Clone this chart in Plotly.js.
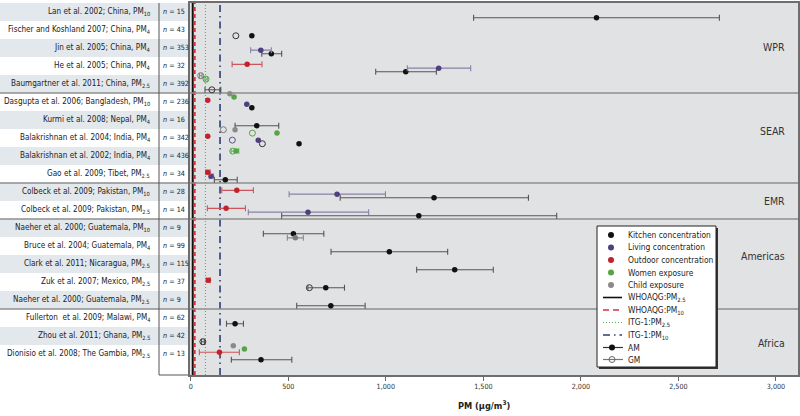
<!DOCTYPE html>
<html><head><meta charset="utf-8">
<script src="https://cdn.plot.ly/plotly-3.0.1.min.js"></script>
<style>html,body{margin:0;padding:0;background:#fff}#chart{width:800px;height:416px}</style>
</head><body><div id="chart"></div>
<script>
// ---------------- data ----------------
const _ = null;
const studies = [
  "Lan et al. 2002; China, PM<sub>10</sub>",
  "Fischer and Koshland 2007; China, PM<sub>4</sub>",
  "Jin et al. 2005; China, PM<sub>4</sub>",
  "He et al. 2005; China, PM<sub>4</sub>",
  "Baumgartner et al. 2011; China, PM<sub>2.5</sub>",
  "Dasgupta et al. 2006; Bangladesh, PM<sub>10</sub>",
  "Kurmi et al. 2008; Nepal, PM<sub>4</sub>",
  "Balakrishnan et al. 2004; India, PM<sub>4</sub>",
  "Balakrishnan et al. 2002; India, PM<sub>4</sub>",
  "Gao et al. 2009; Tibet, PM<sub>2.5</sub>",
  "Colbeck et al. 2009; Pakistan, PM<sub>10</sub>",
  "Colbeck et al. 2009; Pakistan, PM<sub>2.5</sub>",
  "Naeher et al. 2000; Guatemala, PM<sub>10</sub>",
  "Bruce et al. 2004; Guatemala, PM<sub>4</sub>",
  "Clark et al. 2011; Nicaragua, PM<sub>2.5</sub>",
  "Zuk et al. 2007; Mexico, PM<sub>2.5</sub>",
  "Naeher et al. 2000; Guatemala, PM<sub>2.5</sub>",
  "Fullerton  et al. 2009; Malawi, PM<sub>4</sub>",
  "Zhou et al. 2011; Ghana, PM<sub>2.5</sub>",
  "Dionisio et al. 2008; The Gambia, PM<sub>2.5</sub>"
];
const sampleSizes = [15,43,353,32,392,236,16,342,436,34,28,14,9,99,115,37,9,62,42,13];
const regionNames = ["WPR","SEAR","EMR","Americas","Africa"];
const regionSizes = [5,5,2,5,3];
const xTickVals = [0,500,1000,1500,2000,2500,3000];
const xTickText = ["0","500","1,000","1,500","2,000","2,500","3,000"];
const guideNames = ["WHOAQG:PM<sub>2.5</sub>","WHOAQG:PM<sub>10</sub>","ITG-1:PM<sub>2.5</sub>","ITG-1:PM<sub>10</sub>"];
const guideValues = [10,20,75,150];

// measurements (µg/m3), one entry per study row
const kitchenAM = [2080,313,413,1102,_,313,338,555,_,177,1247,1169,526,1018,1353,692,718,227,_,360];
const kitchenGM = [_,231,_,_,108,_,_,367,_,_,_,_,_,_,_,608,_,_,62,_];
const kitchenLo = [1450,_,364,948,73,_,227,_,_,121,766,466,372,719,1158,600,543,183,55,208];
const kitchenHi = [2710,_,466,1259,154,_,451,_,_,238,1731,1876,682,1317,1551,788,894,270,70,518];
const kitchenAltAM = [_,_,_,_,_,_,_,_,_,_,_,_,536,_,_,_,_,_,_,_];
const kitchenAltLo = [_,_,_,_,_,_,_,_,_,_,_,_,495,_,_,_,_,_,_,_];
const kitchenAltHi = [_,_,_,_,_,_,_,_,_,_,_,_,577,_,_,_,_,_,_,_];

const livingAM = [_,_,359,1271,_,287,_,346,_,104,750,601,_,_,_,_,_,_,_,_];
const livingGM = [_,_,_,_,_,_,_,213,_,_,_,_,_,_,_,_,_,_,_,_];
const livingLo = [_,_,307,1110,_,_,_,_,_,95,504,295,_,_,_,_,_,_,_,_];
const livingHi = [_,_,413,1435,_,_,_,_,_,115,998,912,_,_,_,_,_,_,_,_];

const outdoorAM = [_,_,_,289,_,87,_,87,_,87,236,181,_,_,_,90,_,_,_,147];
const outdoorGM = [_,_,_,_,_,_,_,_,_,_,_,_,_,_,_,_,_,_,_,_];
const outdoorLo = [_,_,_,212,_,_,_,_,_,77,159,85,_,_,_,80,_,_,_,44];
const outdoorHi = [_,_,_,365,_,_,_,_,_,99,321,280,_,_,_,100,_,_,_,249];

const womenAM = [_,_,_,_,_,222,_,442,232,_,_,_,_,_,_,_,_,_,_,275];
const womenGM = [_,_,_,_,78,_,_,316,215,_,_,_,_,_,_,_,_,_,_,_];
const womenLo = [_,_,_,_,72,_,_,_,207,_,_,_,_,_,_,_,_,_,_,_];
const womenHi = [_,_,_,_,85,_,_,_,246,_,_,_,_,_,_,_,_,_,_,_];

const childAM = [_,_,_,_,_,200,_,227,_,_,_,_,_,_,_,_,_,_,_,218];
const childGM = [_,_,_,_,51,_,_,167,_,_,_,_,_,_,_,_,_,_,_,_];
const childLo = [_,_,_,_,45,_,_,_,_,_,_,_,_,_,_,_,_,_,_,_];
const childHi = [_,_,_,_,58,_,_,_,_,_,_,_,_,_,_,_,_,_,_,_];

// ---------------- font fitting ----------------
const ctx = document.createElement('canvas').getContext('2d');
function available(f){
  ctx.font = '20px monospace'; const a = ctx.measureText('Fischer and Koshland 2007').width;
  ctx.font = '20px "' + f + '", monospace'; const b = ctx.measureText('Fischer and Koshland 2007').width;
  return Math.abs(a-b) > 0.5;
}
const FAMILY = ['Liberation Sans Narrow','DejaVu Sans Condensed','Roboto','Liberation Sans'].find(available) || 'sans-serif';
const FONT = '"' + FAMILY + '", sans-serif';
function fit(text, target, bold){
  ctx.font = (bold ? 'bold ' : '') + '20px ' + FONT;
  return 20 * target / ctx.measureText(text).width;
}
const S_LABEL = Math.min(10.5, fit('Fischer and Koshland 2007; China, PM', 139));
const S_N     = Math.min(10.5, fit('n = 353', 26));
const S_TICK  = Math.min(11, fit('1,500', 18.5));
const S_LEG   = Math.min(11, fit('Kitchen concentration', 83));
const S_REG   = Math.min(12, fit('WPR', 21.5));
const S_TITLE = Math.min(14, fit('PM (µg/m3)', 54, true));

// ---------------- layout helpers ----------------
const W = 800, H = 416;
const PX = x => x / W, PY = y => 1 - y / H;
const Y_RANGE = [20.17, -0.5];     // reversed: first study at top
const Y_TOP = 3, Y_BOT = 375, X_LEFT = 190, X_RIGHT = 798;

const types = [
  {name:"Kitchen concentration", color:"#111111", bar:"#555555", gmColor:"#333333", off:0.32, am:kitchenAM, gm:kitchenGM, lo:kitchenLo, hi:kitchenHi},
  {name:"Living concentration",  color:"#4f3f7e", bar:"#8a80a8", gmColor:"#5f5285", off:0.12, am:livingAM, gm:livingGM, lo:livingLo, hi:livingHi},
  {name:"Outdoor concentration", color:"#c0232b", bar:"#d0545a", gmColor:"#c0232b", off:-0.09, am:outdoorAM, gm:outdoorGM, lo:outdoorLo, hi:outdoorHi},
  {name:"Women exposure",        color:"#55a544", bar:"#6db35e", gmColor:"#55a544", off:-0.27, am:womenAM, gm:womenGM, lo:womenLo, hi:womenHi},
  {name:"Child exposure",        color:"#8a8a8a", bar:"#8a8a8a", gmColor:"#7a7a7a", off:-0.46, am:childAM, gm:childGM, lo:childLo, hi:childHi}
];
const extra = {color:"#7d7d7d", bar:"#8a8a8a", off:0.55, am:kitchenAltAM, lo:kitchenAltLo, hi:kitchenAltHi};

const traces = [];
function errs(vals, lo, hi, use){
  return {
    plus: vals.map((v,i) => (v!=null && use(i) && hi[i]!=null) ? hi[i]-v : NaN),
    minus: vals.map((v,i) => (v!=null && use(i) && lo[i]!=null) ? v-lo[i] : NaN)
  };
}
types.forEach(t => {
  const ys = t.am.map((v,i) => i + t.off);
  const eg = errs(t.gm, t.lo, t.hi, i => t.am[i]==null);
  traces.push({
    type:'scatter', mode:'markers', x:t.gm, y:ys, showlegend:false, hoverinfo:'x',
    marker:{symbol:'circle-open', size:6, color:t.gmColor, line:{width:1, color:t.gmColor}},
    error_x:{type:'data', symmetric:false, array:eg.plus, arrayminus:eg.minus, color:t.bar, thickness:1.1, width:3}
  });
  const ea = errs(t.am, t.lo, t.hi, i => true);
  traces.push({
    type:'scatter', mode:'markers', x:t.am, y:ys, showlegend:false, hoverinfo:'x',
    marker:{symbol:'circle', size:5.5, color:t.color},
    error_x:{type:'data', symmetric:false, array:ea.plus, arrayminus:ea.minus, color:t.bar, thickness:1.1, width:3}
  });
});
{
  const ee = errs(extra.am, extra.lo, extra.hi, i => true);
  traces.push({
    type:'scatter', mode:'markers', x:extra.am, y:extra.am.map((v,i)=>i+extra.off), showlegend:false, hoverinfo:'x',
    marker:{symbol:'circle', size:5.5, color:extra.color},
    error_x:{type:'data', symmetric:false, array:ee.plus, arrayminus:ee.minus, color:extra.bar, thickness:1.1, width:3}
  });
}

// ---------------- shapes ----------------
const shapes = [];
shapes.push({type:'rect', xref:'paper', yref:'paper', x0:PX(X_LEFT), x1:PX(X_RIGHT), y0:PY(Y_BOT), y1:PY(Y_TOP),
             fillcolor:'#e1e2e4', line:{width:0}, layer:'below'});
studies.forEach((s,i) => {
  if (i % 2 === 0) shapes.push({type:'rect', xref:'paper', yref:'y', x0:0, x1:PX(X_LEFT), y0:i-0.5, y1:i+0.5,
             fillcolor:'#e3e8ec', line:{width:0}, layer:'below'});
});
const guideStyles = [
  {color:'#111111', width:2, dash:'solid'},
  {color:'#d8343c', width:2, dash:'4px,3px'},
  {color:'#4caf50', width:1, dash:'1px,2px'},
  {color:'#2d3e78', width:1.6, dash:'7px,4px,1.5px,4px'}
];
guideValues.forEach((v,k) => {
  shapes.push({type:'line', xref:'x', yref:'paper', x0:v, x1:v, y0:PY(Y_BOT), y1:PY(Y_TOP), line:guideStyles[k], layer:'below'});
});
let acc = 0;
regionSizes.slice(0,-1).forEach(n => {
  acc += n;
  shapes.push({type:'line', xref:'paper', yref:'y', x0:0, x1:PX(X_RIGHT), y0:acc-0.5, y1:acc-0.5,
               line:{color:'#8e8e8e', width:1.6}, layer:'below'});
});
shapes.push({type:'line', xref:'paper', yref:'paper', x0:PX(159), x1:PX(159), y0:PY(Y_BOT), y1:PY(Y_TOP), line:{color:'#555', width:1}, layer:'below'});
shapes.push({type:'line', xref:'paper', yref:'paper', x0:PX(159), x1:PX(X_LEFT), y0:PY(Y_BOT), y1:PY(Y_BOT), line:{color:'#555', width:1}, layer:'below'});
const LB = {x0:597, x1:716, y0:226, y1:367};
shapes.push({type:'rect', xref:'paper', yref:'paper', x0:PX(LB.x0+2), x1:PX(LB.x1+2), y0:PY(LB.y1+2), y1:PY(LB.y0+2),
             fillcolor:'#333', line:{width:0}, layer:'below'});
shapes.push({type:'rect', xref:'paper', yref:'paper', x0:PX(LB.x0), x1:PX(LB.x1), y0:PY(LB.y1), y1:PY(LB.y0),
             fillcolor:'#ffffff', line:{color:'#222', width:1}, layer:'below'});

// ---------------- legend (own pixel-unit subplot) ----------------
const legY = [235,247.5,260,272.5,285,297.5,310,322.5,335,347.5,359.5];
const legendTexts = types.map(t=>t.name).concat(guideNames, ["AM","GM"]);
const L = {xaxis:'x3', yaxis:'y3', showlegend:false, hoverinfo:'skip', type:'scatter'};
types.forEach((t,k) => traces.push(Object.assign({mode:'markers', x:[611], y:[legY[k]], marker:{size:6, color:t.color}}, L)));
guideStyles.forEach((st,k) => traces.push(Object.assign({mode:'lines', x:[603,622], y:[legY[5+k],legY[5+k]],
   line:{color:st.color, width:Math.min(st.width,1.6), dash:k===1?'6px,4px':st.dash}}, L)));
traces.push(Object.assign({mode:'lines', x:[603,623], y:[legY[9],legY[9]], line:{color:'#333', width:1.2}}, L));
traces.push(Object.assign({mode:'markers', x:[612], y:[legY[9]], marker:{size:6, color:'#111'}}, L));
traces.push(Object.assign({mode:'lines', x:[603,623], y:[legY[10],legY[10]], line:{color:'#777', width:1.2}}, L));
traces.push(Object.assign({mode:'markers', x:[612], y:[legY[10]], marker:{size:6, symbol:'circle-open', color:'#666', line:{width:1,color:'#666'}}}, L));

// ---------------- annotations ----------------
const annotations = [];
studies.forEach((s,i) => {
  annotations.push({xref:'paper', yref:'y', x:PX(152), y:i, xanchor:'right', yanchor:'middle', text:s, showarrow:false,
                    font:{family:FONT, size:S_LABEL, color:'#222'}});
  annotations.push({xref:'paper', yref:'y', x:PX(161), y:i, xanchor:'left', yanchor:'middle', text:'<i>n</i> = ' + sampleSizes[i], showarrow:false,
                    font:{family:FONT, size:S_N, color:'#222'}});
});
const regionY = [46.7,130.7,201,256,342.7];
regionNames.forEach((r,k) => {
  annotations.push({xref:'paper', yref:'paper', x:PX(787), y:PY(regionY[k]), xanchor:'right', yanchor:'middle',
                    text:r, showarrow:false, font:{family:FONT, size:S_REG, color:'#333'}});
});
legendTexts.forEach((txt,k) => {
  annotations.push({xref:'x3', yref:'y3', x:626, y:legY[k], xanchor:'left', yanchor:'middle', text:txt, showarrow:false,
                    font:{family:FONT, size:S_LEG, color:'#222'}});
});
annotations.push({xref:'paper', yref:'paper', x:PX(484), y:PY(405), xanchor:'center', yanchor:'middle',
                  text:'<b>PM (µg/m<sup>3</sup>)</b>', showarrow:false, font:{family:FONT, size:S_TITLE, color:'#222'}});

const layout = {
  width:W, height:H, margin:{l:0,r:0,t:0,b:0}, paper_bgcolor:'#ffffff', plot_bgcolor:'rgba(0,0,0,0)',
  showlegend:false, font:{family:FONT},
  xaxis:{domain:[PX(X_LEFT),PX(X_RIGHT)], range:[-4,3113], tickvals:xTickVals, ticktext:xTickText, ticks:'outside', ticklen:4,
         tickcolor:'#666', tickfont:{family:FONT, size:S_TICK, color:'#333'}, showgrid:false, zeroline:false,
         showline:true, linecolor:'#6e6e6e', linewidth:1.6, mirror:true, anchor:'y', fixedrange:true},
  yaxis:{domain:[PY(Y_BOT),PY(Y_TOP)], range:Y_RANGE, showticklabels:false, ticks:'', showgrid:false, zeroline:false,
         showline:true, linecolor:'#6e6e6e', linewidth:1.6, mirror:true, anchor:'x', fixedrange:true},
  xaxis3:{domain:[PX(LB.x0),PX(LB.x1)], range:[LB.x0,LB.x1], visible:false, anchor:'y3', fixedrange:true},
  yaxis3:{domain:[PY(LB.y1),PY(LB.y0)], range:[LB.y1,LB.y0], visible:false, anchor:'x3', fixedrange:true},
  shapes:shapes, annotations:annotations
};
Plotly.newPlot('chart', traces, layout, {displayModeBar:false, staticPlot:true});
</script></body></html>
